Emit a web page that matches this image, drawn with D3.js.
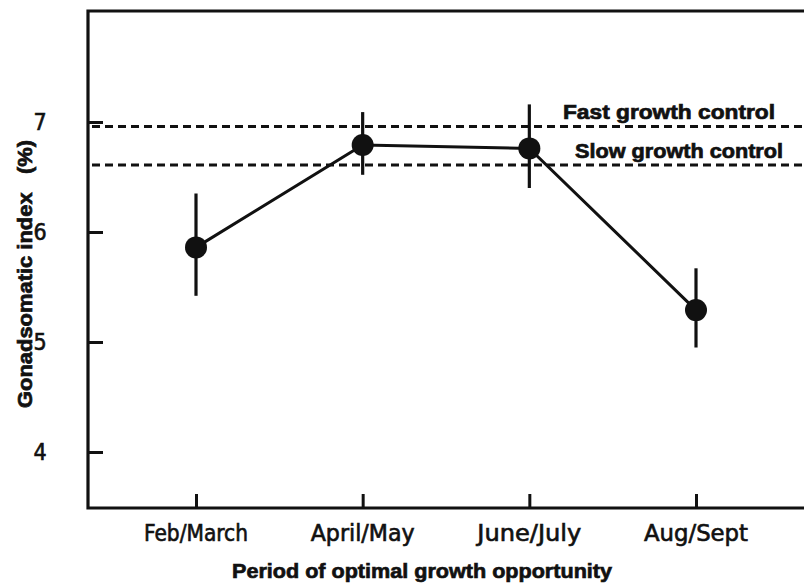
<!DOCTYPE html>
<html>
<head>
<meta charset="utf-8">
<script src="https://cdn.jsdelivr.net/npm/d3@7"></script>
<style>
  html, body { margin: 0; padding: 0; background: #fff; }
  svg { display: block; }
  .tick-label { font-family: "DejaVu Sans Condensed", "DejaVu Sans", sans-serif; font-stretch: condensed; font-weight: normal; fill: #111; stroke: #111; stroke-width: 0.6; }
  .bold-label { font-family: "Liberation Sans", Arial, sans-serif; font-weight: bold; fill: #111; stroke: #111; stroke-width: 0.7; }
</style>
</head>
<body>
<script>
// Gonadsomatic index by period of optimal growth opportunity
const periods = ["Feb/March", "April/May", "June/July", "Aug/Sept"];
const gsiMean = [5.86, 6.79, 6.76, 5.29];
const gsiUpper = [6.35, 7.09, 7.16, 5.67];
const gsiLower = [5.42, 6.52, 6.40, 4.95];
const yTicks = [4, 5, 6, 7];
const controlNames = ["Fast growth control", "Slow growth control"];
const controlValues = [6.96, 6.61];

const W = 804, H = 585;
const plotLeft = 88, plotTop = 11, plotBottom = 508, plotRight = 806;

const svg = d3.select("body").append("svg").attr("width", W).attr("height", H);

const x = d3.scalePoint().domain(periods).range([196, 696]);
const y = d3.scaleLinear().domain([3.491, 8.009]).range([plotBottom, plotTop]);

const ink = "#111";

// control reference lines
svg.append("g").selectAll("line").data(controlValues).join("line")
  .attr("x1", plotLeft + 4).attr("x2", W)
  .attr("y1", d => y(d)).attr("y2", d => y(d))
  .attr("stroke", ink).attr("stroke-width", 3)
  .attr("stroke-dasharray", "8,5");

// control labels sit just above their lines
const ctrlLabel = [{ x: 563, len: 212 }, { x: 575, len: 208 }];
svg.append("g").selectAll("text").data(controlNames).join("text")
  .attr("class", "bold-label")
  .attr("x", (d, i) => ctrlLabel[i].x)
  .attr("y", (d, i) => y(controlValues[i]) - 7)
  .attr("font-size", 20)
  .attr("textLength", (d, i) => ctrlLabel[i].len)
  .attr("lengthAdjust", "spacingAndGlyphs")
  .text(d => d);

// connecting line through the means
const pts = periods.map((p, i) => [x(p), y(gsiMean[i])]);
svg.append("path")
  .attr("d", d3.line()(pts))
  .attr("fill", "none").attr("stroke", ink).attr("stroke-width", 3);

// error bars
svg.append("g").selectAll("line").data(periods).join("line")
  .attr("x1", d => x(d)).attr("x2", d => x(d))
  .attr("y1", (d, i) => y(gsiUpper[i])).attr("y2", (d, i) => y(gsiLower[i]))
  .attr("stroke", ink).attr("stroke-width", 3.2);

// mean markers
svg.append("g").selectAll("circle").data(periods).join("circle")
  .attr("cx", d => x(d)).attr("cy", (d, i) => y(gsiMean[i]))
  .attr("r", 11).attr("fill", ink);

// frame
svg.append("path")
  .attr("d", `M${plotRight},${plotTop}H${plotLeft}V${plotBottom}H${plotRight}`)
  .attr("fill", "none").attr("stroke", ink).attr("stroke-width", 3.2);

// y axis ticks (inward) and labels
const yAxis = d3.axisRight(y).tickValues(yTicks).tickSize(15).tickFormat("");
const gy = svg.append("g").attr("transform", `translate(${plotLeft},0)`).call(yAxis);
gy.select(".domain").remove();
gy.selectAll(".tick line").attr("stroke", ink).attr("stroke-width", 3);

svg.append("g").selectAll("text").data(yTicks).join("text")
  .attr("class", "tick-label")
  .attr("x", 40).attr("y", d => y(d) + 8)
  .attr("text-anchor", "middle")
  .attr("font-size", 23)
  .text(d => d);

// x axis ticks (inward) and labels
const xAxis = d3.axisTop(x).tickSize(14).tickFormat("");
const gx = svg.append("g").attr("transform", `translate(0,${plotBottom})`).call(xAxis);
gx.select(".domain").remove();
gx.selectAll(".tick line").attr("stroke", ink).attr("stroke-width", 3);

svg.append("g").selectAll("text").data(periods).join("text")
  .attr("class", "tick-label")
  .attr("x", d => x(d)).attr("y", 541)
  .attr("text-anchor", "middle")
  .attr("font-size", 23)
  .attr("textLength", 104)
  .attr("lengthAdjust", "spacingAndGlyphs")
  .text(d => d);

// axis titles
svg.append("text")
  .attr("class", "bold-label")
  .attr("x", 422).attr("y", 578)
  .attr("text-anchor", "middle")
  .attr("font-size", 21)
  .attr("textLength", 380)
  .attr("lengthAdjust", "spacingAndGlyphs")
  .text("Period of optimal growth opportunity");

svg.append("text")
  .attr("class", "bold-label")
  .attr("transform", "translate(32,274) rotate(-90)")
  .attr("text-anchor", "middle")
  .attr("font-size", 20)
  .attr("textLength", 268)
  .attr("lengthAdjust", "spacingAndGlyphs")
  .style("white-space", "pre")
  .text("Gonadsomatic index   (%)");
</script>
</body>
</html>
